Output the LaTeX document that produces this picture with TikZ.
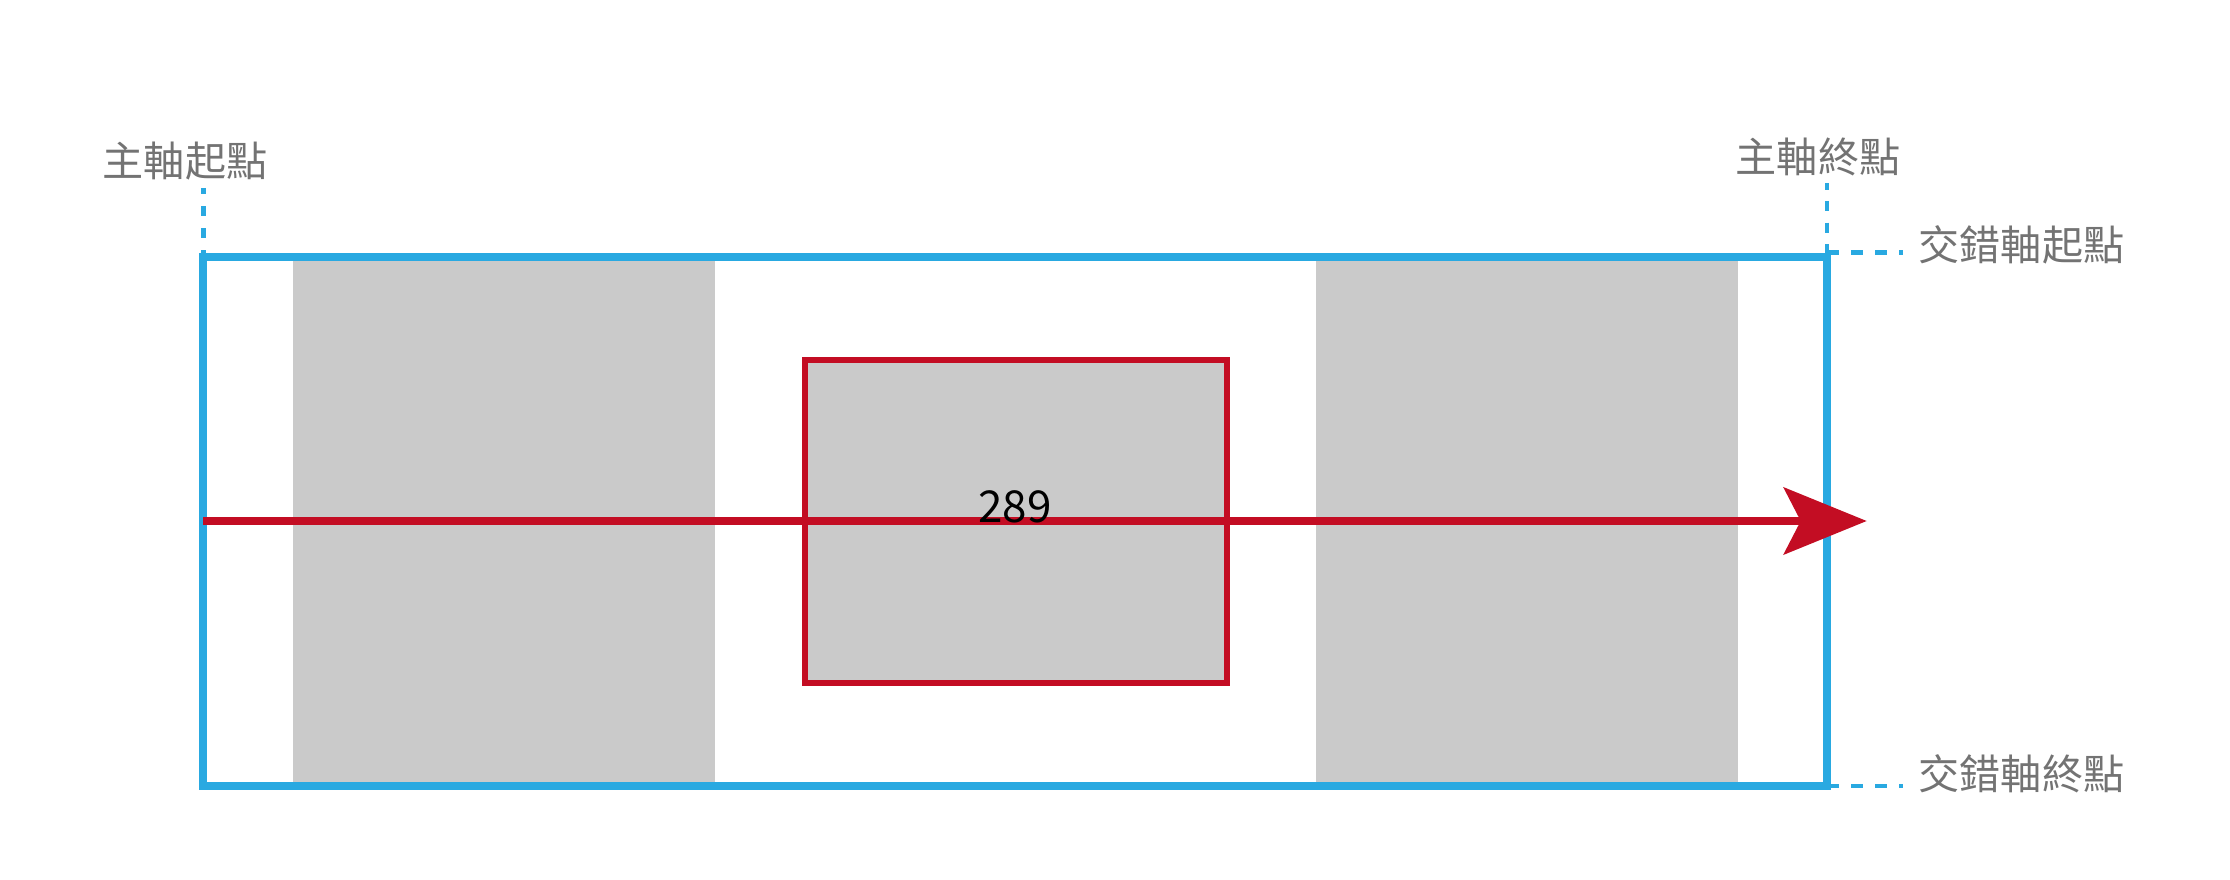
\documentclass[tikz,border=0pt]{standalone}
\usepackage{fontspec}
\newfontfamily\cjk{Noto Sans CJK TC}
\usetikzlibrary{arrows.meta}
\definecolor{axisblue}{HTML}{29A9E1}
\definecolor{axisred}{HTML}{C30D23}
\definecolor{itemgray}{HTML}{CACACA}
\definecolor{labelgray}{HTML}{737373}
\begin{document}
\begin{tikzpicture}[x=0.1mm,y=-0.1mm,
  container/.style={draw=axisblue,line width=0.8mm,inner sep=0pt,
    minimum width=162.37mm,minimum height=52.9mm},
  itembox/.style={fill=itemgray,draw=none,inner sep=0pt,
    minimum width=42.2mm,minimum height=52.1mm},
  focusbox/.style={fill=itemgray,draw=axisred,line width=0.6mm,inner sep=0pt,
    minimum width=42.23mm,minimum height=32.3mm},
  mainaxis/.style={draw=axisred,line width=0.75mm,
    -{Stealth[length=8.3mm,width=6.7mm,inset=1.7mm,fill=axisred]}},
  guide/.style={draw=axisblue,line width=0.45mm},
  lbl/.style={text=labelgray,font=\cjk\fontsize{11.7pt}{14pt}\selectfont,inner sep=0pt},
  numlbl/.style={text=black,font=\cjk\fontsize{12.5pt}{15pt}\selectfont,inner sep=0pt}]
\useasboundingbox (0,0) rectangle (2230,880);
% items
\node[itembox] (item1) at (503.75,521.5) {};
\node[itembox] (item3) at (1527,521.5) {};
\node[focusbox] (item2) at (1015.85,521) {};
% container
\node[container] (box) at (1015.15,521.5) {};
% main axis
\coordinate (mstart) at (203.3,521);
\coordinate (mend) at (1866.7,521);
\draw[mainaxis] (mstart) -- (mend);
\node[numlbl,anchor=base] (num) at (1015,522) {289};
% labels
\node[lbl] (lmstart) at (185,161) {主軸起點};
\node[lbl] (lmend) at (1818,156.5) {主軸終點};
\node[lbl] (lcstart) at (2021.5,245) {交錯軸起點};
\node[lbl] (lcend) at (2021.5,774) {交錯軸終點};
% guides
\coordinate (g1a) at (203.3,188);
\coordinate (g1b) at (203.3,257);
\draw[guide,dash pattern=on 1.0mm off 1.2mm,dash phase=0.35mm] (g1a) -- (g1b);
\coordinate (g2a) at (1827,183.3);
\coordinate (g2b) at (1827,257);
\draw[guide,dash pattern=on 1.05mm off 1.12mm,dash phase=0.4mm] (g2a) -- (g2b);
\coordinate (g3a) at (1827,252.5);
\coordinate (g3b) at (1903,252.5);
\draw[guide,dash pattern=on 1.2mm off 1.2mm] (g3a) -- (g3b);
\coordinate (g4a) at (1827,785.8);
\coordinate (g4b) at (1903,785.8);
\draw[guide,dash pattern=on 1.2mm off 1.2mm] (g4a) -- (g4b);
\end{tikzpicture}
\end{document}
